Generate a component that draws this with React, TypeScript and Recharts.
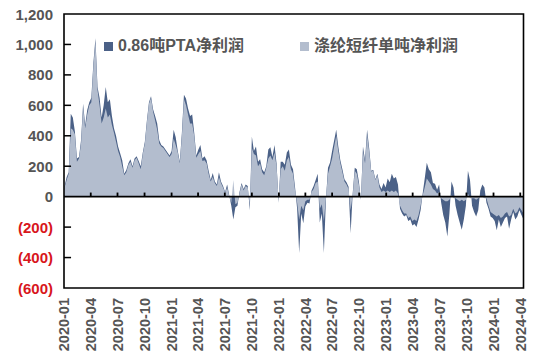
import React from 'react';
import { ComposedChart, Area, XAxis, YAxis, ReferenceLine, ReferenceArea } from 'recharts';

// ---- categories / ticks ----
const firstWeek = '2020-01-03'; // weekly observations
const axisStart = '2020-01-01';
const axisEnd = '2024-04-12';
const quarterTicks = [
  '2020-01', '2020-04', '2020-07', '2020-10',
  '2021-01', '2021-04', '2021-07', '2021-10',
  '2022-01', '2022-04', '2022-07', '2022-10',
  '2023-01', '2023-04', '2023-07', '2023-10',
  '2024-01', '2024-04',
];
const yTicks = [-600, -400, -200, 0, 200, 400, 600, 800, 1000, 1200];

const seriesNames = ['0.86吨PTA净利润', '涤纶短纤单吨净利润'];
const seriesColors = ['#4b6187', '#b3bdce'];

// ---- 0.86吨PTA净利润 (weekly, 元/吨) ----
const ptaSeg1 = [
  70, 130, 160, 545, 520, 430, 250, 260, 370, 610, 470, 570, 620,
  650, 880, 1040, 720, 650, 520, 600, 720, 620, 640, 530, 450, 400,
  330, 285, 240, 150, 175, 220, 245, 200, 250, 265, 235, 200, 290,
  360, 500, 620, 660, 575, 530, 480, 370, 340, 330, 310, 290, 270,
];
const ptaSeg2 = [
  300, 440, 390, 300, 230, 420, 670, 645, 580, 530, 540, 420, 270,
  310, 340, 250, 265, 240, 170, 110, 155, 100, 80, 160, 100, 70,
  30, 80, 10, -60, -150, -70, -60, 30, 90, 50, 80, 70, -90,
  395, 300, 330, 230, 245, 180, 160, 200, 310, 325, 260, 340, 220,
];
const ptaSeg3 = [
  -40, 230, 230, 210, 290, 310, 210, 180, 60, -80, -370, -110, -175,
  -65, -40, -45, 40, 70, 110, 150, -170, -110, -370, -20, 190, 225,
  300, 370, 440, 330, 240, 180, 115, 95, 65, -240, 20, 190, 180,
  100, -20, 330, 240, 440, 320, 170, 175, 115, 150, 80, 50, 90,
];
const ptaSeg4 = [
  60, 120, 95, 150, 120, 130, 80, -80, -110, -130, -120, -160, -150,
  -190, -180, -200, -150, -90, 20, 120, 222, 180, 160, 90, 85, 46,
  80, -40, -120, -170, -262, -110, 100, 60, -60, -120, -170, -218, -150,
  -60, 170, 110, -60, -100, -130, -90, 40, 80, 60, -40, -80, -130,
];
const ptaSeg5 = [
  -140, -160, -220, -150, -200, -170, -140, -130, -210, -150, -100, -150, -130,
  -90, -120, -150,
];

// ---- 涤纶短纤单吨净利润 (weekly, 元/吨) ----
const stapleSeg1 = [
  60, 110, 150, 450, 440, 410, 230, 250, 350, 590, 450, 540, 600,
  620, 860, 1020, 700, 600, 480, 520, 580, 520, 540, 470, 420, 360,
  300, 260, 200, 140, 160, 210, 230, 190, 240, 255, 220, 180, 280,
  350, 490, 610, 650, 560, 500, 440, 350, 330, 320, 300, 280, 260,
];
const stapleSeg2 = [
  280, 380, 340, 290, 220, 400, 640, 600, 540, 480, 480, 400, 255,
  280, 300, 235, 240, 220, 150, 100, 130, 90, 70, 130, 90, 60,
  25, 60, 5, -40, 110, -50, -40, 20, 80, 40, 70, 60, -60,
  320, 280, 270, 200, 220, 160, 140, 190, 250, 270, 240, 290, 200,
];
const stapleSeg3 = [
  -20, 180, 200, 170, 240, 260, 180, 150, 40, -40, -150, -60, -90,
  -30, -20, -20, 30, 50, 90, 100, -80, -50, -160, -10, 150, 200,
  250, 330, 400, 300, 220, 160, 100, 80, 50, -90, 10, 170, 150,
  80, -10, 300, 220, 410, 300, 165, 170, 110, 140, 60, 30, 40,
];
const stapleSeg4 = [
  30, 40, 30, 40, 30, 40, 20, -60, -90, -110, -110, -140, -130,
  -160, -150, -160, -120, -60, 10, 60, 120, 100, 80, 50, 40, 20,
  30, -10, -20, -30, -30, -20, 10, -10, -10, -20, -30, -20, -30,
  -20, 20, -10, -10, -10, -20, -10, 0, 0, -10, -10, -60, -100,
];
const stapleSeg5 = [
  -110, -120, -130, -120, -140, -130, -110, -100, -130, -120, -80, -110, -100,
  -70, -90, -110,
];

// ---- build table ----
const DAY = 86400000;
const toTs = (s: string) => Date.parse(s.length === 7 ? `${s}-01T00:00:00Z` : `${s}T00:00:00Z`);
const ptaAll = [...ptaSeg1, ...ptaSeg2, ...ptaSeg3, ...ptaSeg4, ...ptaSeg5];
const stapleAll = [...stapleSeg1, ...stapleSeg2, ...stapleSeg3, ...stapleSeg4, ...stapleSeg5];
const startTs = toTs(axisStart);
const endTs = toTs(axisEnd);
const week0 = toTs(firstWeek);
const data = ptaAll.map((v, i) => ({ t: week0 + i * 7 * DAY, pta: v, staple: stapleAll[i] }));
const quarterTs = quarterTicks.map(toTs);
const tickLabel: Record<number, string> = {};
quarterTicks.forEach((q, i) => { tickLabel[quarterTs[i]] = q; });

const latin = "'Liberation Sans', Arial, 'Noto Sans CJK SC', sans-serif";

const fmt = (v: number) => {
  const a = Math.abs(v);
  const s = a >= 1000 ? `${Math.floor(a / 1000)},${String(a % 1000).padStart(3, '0')}` : `${a}`;
  return v < 0 ? `(${s})` : s;
};

const YTick = (props: any) => {
  const { x, y, payload } = props;
  const v = payload.value as number;
  return (
    <text x={x} y={y} dy={5.5} textAnchor="end" fontFamily={latin} fontSize={15} fontWeight="bold"
      fill={v < 0 ? '#d8161c' : '#555555'}>{fmt(v)}</text>
  );
};

const XTick = (props: any) => {
  const { x, y, payload } = props;
  return (
    <text transform={`translate(${x},${y + 10}) rotate(-90)`} textAnchor="end" dy="0.36em"
      fontFamily={latin} fontSize={14.5} fontWeight="bold" fill="#555555">{tickLabel[payload.value]}</text>
  );
};

const legendLeft = [104, 300];
const LegendBox = () => (
  <div style={{ position: 'absolute', left: 0, top: 36, width: 534, height: 20, pointerEvents: 'none' }}>
    {seriesNames.map((n, i) => (
      <div key={n} style={{ position: 'absolute', left: legendLeft[i], top: 0, display: 'flex', alignItems: 'center',
        fontFamily: latin, fontSize: 16, fontWeight: 'bold', color: '#555555', whiteSpace: 'nowrap', lineHeight: '20px' }}>
        <span style={{ display: 'inline-block', width: 9, height: 9, background: seriesColors[i], marginRight: 5 }} />
        <span>{n}</span>
      </div>
    ))}
  </div>
);

export default function App() {
  return (
    <div style={{ position: 'absolute', left: 0, top: 0, width: 534, height: 356, background: '#fff' }}>
      <ComposedChart width={534} height={356} data={data} margin={{ top: 14, right: 10.5, left: 0, bottom: 0 }}>
        <XAxis dataKey="t" type="number" domain={[startTs, endTs]} ticks={quarterTs} allowDataOverflow
          axisLine={false} tickLine={false} tickSize={0} tickMargin={0} height={68} interval={0} tick={<XTick />} />
        <YAxis type="number" domain={[-600, 1200]} ticks={yTicks} allowDataOverflow width={64}
          axisLine={false} tickLine={false} tickSize={0} tickMargin={11} interval={0} tick={<YTick />} />
        <Area type="linear" dataKey="pta" name={seriesNames[0]} fill={seriesColors[0]} fillOpacity={1}
          stroke="none" dot={false} activeDot={false} isAnimationActive={false} />
        <Area type="linear" dataKey="staple" name={seriesNames[1]} fill={seriesColors[1]} fillOpacity={1}
          stroke="none" dot={false} activeDot={false} isAnimationActive={false} />
        <ReferenceLine y={0} stroke="#000" strokeWidth={1.8} />
        {quarterTs.slice(1).map((t) => (
          <ReferenceLine key={`xt${t}`} segment={[{ x: t, y: 0 }, { x: t, y: 27 }]} stroke="#000" strokeWidth={1.8} />
        ))}
        {yTicks.filter((v) => v !== 0 && v !== 1200 && v !== -600).map((v) => (
          <ReferenceLine key={`yt${v}`} segment={[{ x: startTs, y: v }, { x: startTs + 24 * DAY, y: v }]} stroke="#000" strokeWidth={1.5} />
        ))}
        <ReferenceArea x1={startTs} x2={endTs} y1={-600} y2={1200} fill="none" fillOpacity={0}
          stroke="#000" strokeWidth={1.6} strokeOpacity={1} />
      </ComposedChart>
      <LegendBox />
    </div>
  );
}
